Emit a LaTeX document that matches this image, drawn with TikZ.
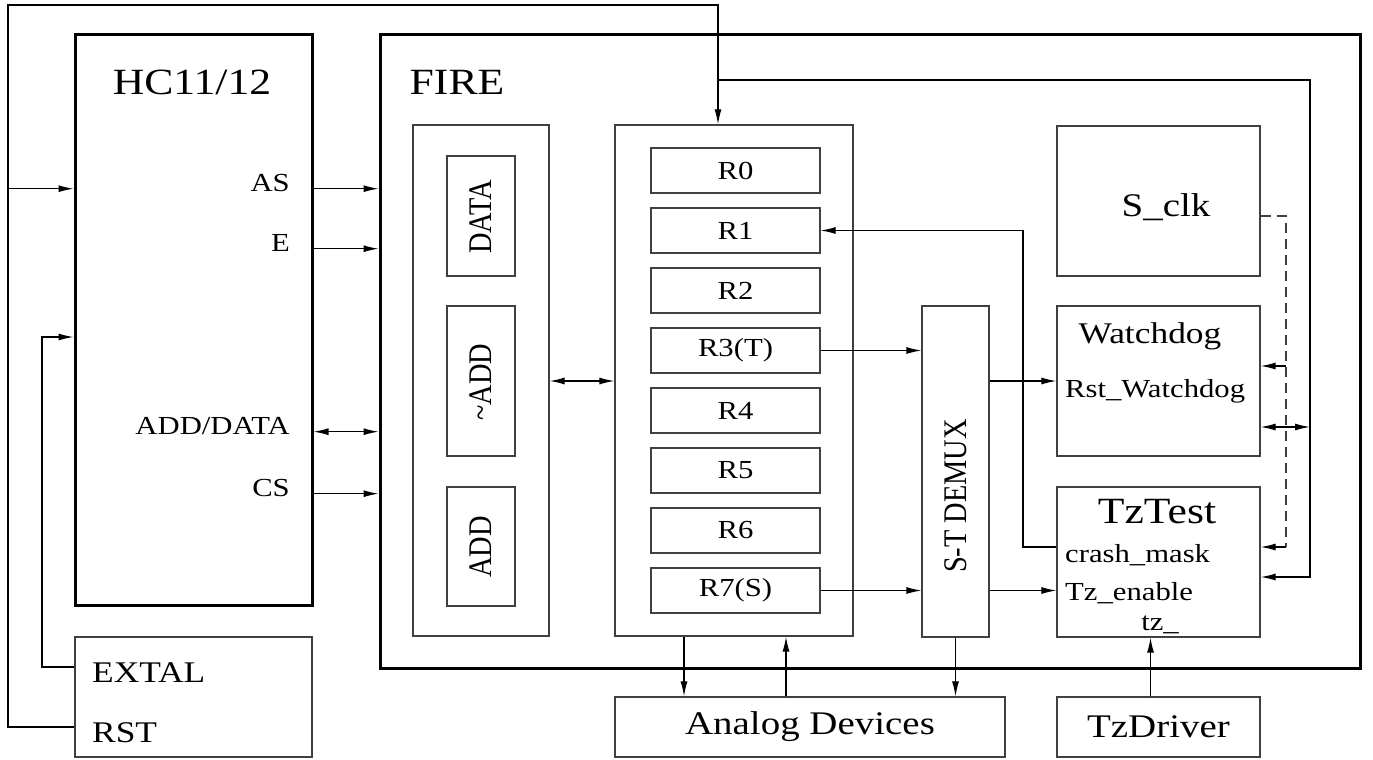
\documentclass[tikz,border=0pt]{standalone}
\usepackage{fontspec}
\setmainfont{Liberation Serif}[FakeStretch=1.18]
\newfontfamily\rotfont{Liberation Serif}[FakeStretch=0.86]
\usetikzlibrary{arrows.meta}

\begin{document}
\begin{tikzpicture}[x=1pt, y=-1pt,
		box/.style={draw=black!75, line width=1.3pt, inner sep=0pt},
		chip/.style={draw=black, line width=3pt, inner sep=0pt},
		wire/.style={line width=1.2pt},
		arr/.style={wire, -{Latex[length=15pt,width=7pt]}},
		dbl/.style={wire, {Latex[length=15pt,width=7pt]}-{Latex[length=15pt,width=7pt]}},
		dsh/.style={wire, black!75, dash pattern=on 10pt off 6pt},
		fbig/.style={font=\fontsize{37}{40}\selectfont, inner sep=0pt},
		fmid/.style={font=\fontsize{33}{36}\selectfont, inner sep=0pt},
		fext/.style={font=\fontsize{30}{33}\selectfont, inner sep=0pt},
		fsml/.style={font=\fontsize{26}{29}\selectfont, inner sep=0pt},
		frot/.style={font=\rotfont\fontsize{33}{35}\selectfont, inner sep=0pt}]
			%%%%% START %%%%%
			\useasboundingbox (0,0) rectangle (1373,760);
			
			%%%%% HC11/12 %%%%%
			\node[chip, minimum width=237, minimum height=570] (hc) at (193.5,320) {};
			\node[fbig, anchor=base] (hcname) at (192,95) {HC11/12};
			\node[fsml, anchor=base east] (as) at (290,191) {AS};
			\node[fsml, anchor=base east] (e) at (290,251) {E};
			\node[fsml, anchor=base east] (ad) at (290,434) {ADD/DATA};
			\node[fsml, anchor=base east] (cs) at (290,496) {CS};
			
			\node[box, minimum width=237, minimum height=120] (clk) at (193.5,697) {};
			\node[fext, anchor=base west] (extal) at (92,682) {EXTAL};
			\node[fext, anchor=base west] (rst) at (92,742) {RST};
			
			%%%%% FIRE %%%%%
			\node[chip, minimum width=980, minimum height=633] (fire) at (870,351.5) {};
			\node[fbig, anchor=base] (firename) at (457,95) {FIRE};
			
			\node[box, minimum width=136, minimum height=511] (bus) at (481,380.5) {};
			\node[box, minimum width=68, minimum height=120] (data) at (481,216) {};
			\node[box, minimum width=68, minimum height=150] (nadd) at (481,381) {};
			\node[box, minimum width=68, minimum height=119] (add) at (481,546.5) {};
			\node[frot, rotate=90] (datat) at (481,217) {DATA};
			\node[frot, rotate=90] (naddt) at (481,382) {\textasciitilde ADD};
			\node[frot, rotate=90] (addt) at (481,547) {ADD};
			
			\node[box, minimum width=238, minimum height=511] (regs) at (734,380.5) {};
			\foreach \i/\t in {0/R0,1/R1,2/R2,3/R3(T),4/R4,5/R5,6/R6,7/R7(S)}
				\node[box, fsml, minimum width=169, minimum height=45] (r\i) at (735.5,170.5+60*\i) {\t};
			
			\node[box, minimum width=67, minimum height=331] (demux) at (955.5,471.5) {};
			\node[frot, rotate=90] (demuxt) at (956,496) {S-T DEMUX};
			
			\node[box, minimum width=203, minimum height=150] (sclk) at (1158.5,201) {};
			\node[fmid, anchor=base] (sclkt) at (1166,216) {S\_clk};
			\node[box, minimum width=203, minimum height=150] (wd) at (1158.5,381) {};
			\node[fext, anchor=base] (wdt) at (1150,343) {Watchdog};
			\node[fsml, anchor=base west] (rstwd) at (1065,397) {Rst\_Watchdog};
			\node[box, minimum width=203, minimum height=150] (tz) at (1158.5,562) {};
			\node[fbig, anchor=base] (tzt) at (1157,523) {TzTest};
			\node[fsml, anchor=base west] (crash) at (1065,562) {crash\_mask};
			\node[fsml, anchor=base west] (tzen) at (1065,600) {Tz\_enable};
			\node[fsml, anchor=base] (tzu) at (1160,630) {tz\_};
			
			%%%%% OUTSIDE %%%%%
			\node[box, fmid, minimum width=390, minimum height=60] (ana) at (810,727) {Analog Devices};
			\node[box, fmid, minimum width=203, minimum height=60] (tzd) at (1158.5,727) {TzDriver};
			
			%%%%% WIRES %%%%%
			\coordinate (xtl) at (42,667);
			\coordinate (xtu) at (42,337);
			\coordinate (lpb) at (8,727);
			\coordinate (lpt) at (8,5);
			\coordinate (lpr) at (718,5);
			\coordinate (rtop) at (1310,80);
			\coordinate (rbot) at (1310,577);
			\coordinate (wdb) at (1310,427);
			\coordinate (cmk) at (1023,547);
			\coordinate (dtop) at (1286,216);
			\coordinate (dwd) at (1286,366);
			\coordinate (dbot) at (1286,547);
			
			\draw[arr] (clk.west |- xtl) -- (xtl) -- (xtu) -- (hc.west |- xtu);
			\draw[arr] (clk.west |- lpb) -- (lpb) -- (lpt) -- (lpr) -- (lpr |- regs.north);
			\draw[arr] (lpt |- as.mid east) -- (hc.west |- as.mid east);
			
			\draw[arr] (hc.east |- as.mid east) -- (fire.west |- as.mid east);
			\draw[arr] (hc.east |- e.mid east) -- (fire.west |- e.mid east);
			\draw[dbl] (hc.east |- ad.mid east) -- (fire.west |- ad.mid east);
			\draw[arr] (hc.east |- cs.mid east) -- (fire.west |- cs.mid east);
			
			\draw[dbl] (bus.east |- nadd) -- (regs.west |- nadd);
			\draw[arr] (r3.east) -- (demux.west |- r3.east);
			\draw[arr] (r7.east) -- (demux.west |- r7.east);
			\draw[arr] (demux.east |- wd.west) -- (wd.west);
			\draw[arr] (demux.east |- r7.east) -- (tz.west |- r7.east);
			\draw[arr] (tz.west |- cmk) -- (cmk) |- (r1.east);
			
			\draw[dsh] (sclk.east |- dtop) -- (dtop) -- (dbot);
			\draw[arr] (dwd) -- (wd.east |- dwd);
			\draw[arr] (dbot) -- (tz.east |- dbot);
			\draw[arr] (lpr |- rtop) -- (rtop) -- (rbot) -- (tz.east |- rbot);
			\draw[dbl] (wd.east |- wdb) -- (wdb);
			
			\draw[arr] ([xshift=-50pt]regs.south) -- ([xshift=-50pt]regs.south |- ana.north);
			\draw[arr] ([xshift=52pt]regs.south |- ana.north) -- ([xshift=52pt]regs.south);
			\draw[arr] (demux.south) -- (demux.south |- ana.north);
			\draw[arr] ([xshift=-8pt]tzd.north) -- ([xshift=-8pt]tzd.north |- tz.south);
			
			%%%%% END %%%%%
\end{tikzpicture}
\end{document}
